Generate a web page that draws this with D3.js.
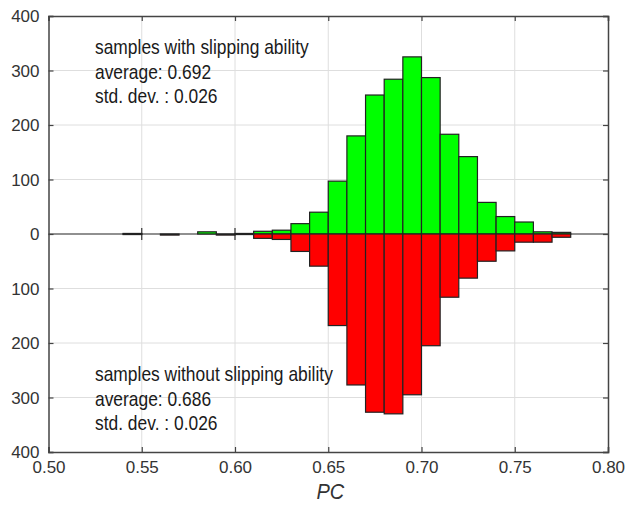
<!DOCTYPE html>
<html>
<head>
<meta charset="utf-8">
<script src="https://cdn.jsdelivr.net/npm/d3@7"></script>
<style>
  body { margin: 0; background: #fff; }
  svg text { font-family: "Liberation Sans", Arial, sans-serif; }
</style>
</head>
<body>
<div id="chart"></div>
<script>
// Histogram bins (left edge of each 0.01-wide bin)
const binStarts = [0.50, 0.51, 0.52, 0.53, 0.54, 0.55, 0.56, 0.57, 0.58, 0.59,
                   0.60, 0.61, 0.62, 0.63, 0.64, 0.65, 0.66, 0.67, 0.68, 0.69,
                   0.70, 0.71, 0.72, 0.73, 0.74, 0.75, 0.76, 0.77, 0.78, 0.79];
// samples with slipping ability (drawn upward)
const withSlip = [0, 0, 0, 0, 1, 0, 0, 0, 4, 0,
                  1, 5, 7, 19, 40, 97, 180, 255, 284, 325,
                  287, 183, 142, 58, 32, 22, 4, 3, 0, 0];
// samples without slipping ability (drawn downward)
const withoutSlip = [0, 0, 0, 0, 1, 0, 2, 0, 0, 2,
                     1, 8, 10, 32, 59, 168, 277, 327, 330, 295,
                     205, 116, 81, 50, 31, 15, 15, 6, 0, 0];
const binWidth = 0.01;

const xTicks = [0.50, 0.55, 0.60, 0.65, 0.70, 0.75, 0.80];
const yTicks = [-400, -300, -200, -100, 0, 100, 200, 300, 400];

const topNote = ['samples with slipping ability', 'average: 0.692', 'std. dev. : 0.026'];
const bottomNote = ['samples without slipping ability', 'average: 0.686', 'std. dev. : 0.026'];

const W = 633, H = 505;
const margin = { top: 16, right: 25, bottom: 53, left: 48.5 };

const svg = d3.select('#chart').append('svg')
  .attr('width', W).attr('height', H);

const x = d3.scaleLinear().domain([0.5, 0.8]).range([margin.left, W - margin.right]);
const y = d3.scaleLinear().domain([-400, 400]).range([H - margin.bottom, margin.top]);

// grid
const grid = svg.append('g').attr('stroke', '#dedede').attr('stroke-width', 1);
grid.selectAll('.gx').data(xTicks.slice(1, -1)).join('line')
  .attr('x1', d => x(d)).attr('x2', d => x(d))
  .attr('y1', y(400)).attr('y2', y(-400));
grid.selectAll('.gy').data(yTicks.slice(1, -1)).join('line')
  .attr('y1', d => y(d)).attr('y2', d => y(d))
  .attr('x1', x(0.5)).attr('x2', x(0.8));

// zero baseline drawn by the (empty) bars
svg.append('line')
  .attr('x1', x(binStarts[0])).attr('x2', x(binStarts[binStarts.length - 1] + binWidth))
  .attr('y1', y(0)).attr('y2', y(0))
  .attr('stroke', '#333').attr('stroke-width', 1.2);

// small crossing ticks on the zero line
svg.append('g').selectAll('line').data(xTicks.slice(1, -1)).join('line')
  .attr('x1', d => x(d)).attr('x2', d => x(d))
  .attr('y1', y(0) - 6).attr('y2', y(0) + 6)
  .attr('stroke', '#333').attr('stroke-width', 1.2);

const bins = binStarts.map((b, i) => ({ x0: b, x1: b + binWidth, up: withSlip[i], down: withoutSlip[i] }));

// green bars (up)
svg.append('g').selectAll('rect').data(bins.filter(d => d.up > 0)).join('rect')
  .attr('x', d => x(d.x0)).attr('width', d => x(d.x1) - x(d.x0))
  .attr('y', d => y(d.up)).attr('height', d => y(0) - y(d.up))
  .attr('fill', '#00ff00').attr('stroke', '#222').attr('stroke-width', 1.2);

// red bars (down)
svg.append('g').selectAll('rect').data(bins.filter(d => d.down > 0)).join('rect')
  .attr('x', d => x(d.x0)).attr('width', d => x(d.x1) - x(d.x0))
  .attr('y', y(0)).attr('height', d => y(-d.down) - y(0))
  .attr('fill', '#ff0000').attr('stroke', '#222').attr('stroke-width', 1.2);

// axes (box with inward ticks)
const axisColor = '#444';
const gL = svg.append('g').attr('transform', `translate(${x(0.5)},0)`)
  .call(d3.axisLeft(y).tickValues(yTicks).tickSize(-5).tickPadding(9).tickFormat(d => Math.abs(d)));
const gR = svg.append('g').attr('transform', `translate(${x(0.8)},0)`)
  .call(d3.axisRight(y).tickValues(yTicks).tickSize(-5).tickFormat(''));
const gB = svg.append('g').attr('transform', `translate(0,${y(-400)})`)
  .call(d3.axisBottom(x).tickValues(xTicks).tickSize(-5).tickPadding(9).tickFormat(d3.format('.2f')));
const gT = svg.append('g').attr('transform', `translate(0,${y(400)})`)
  .call(d3.axisTop(x).tickValues(xTicks).tickSize(-5).tickFormat(''));

[gL, gR, gB, gT].forEach(g => {
  g.select('.domain').attr('stroke', axisColor).attr('stroke-width', 1.5);
  g.selectAll('.tick line').attr('stroke', axisColor).attr('stroke-width', 1.2);
  g.selectAll('.tick text').attr('fill', '#333').style('font-size', '17px');
});
gL.selectAll('.tick text').attr('dy', '0.35em');
gB.selectAll('.tick text').attr('dy', '0.72em');

// axis label
svg.append('text')
  .attr('transform', `translate(${(x(0.5) + x(0.8)) / 2 + 2},499) scale(1,1.08)`)
  .attr('text-anchor', 'middle')
  .style('font-size', '20px').style('font-style', 'italic')
  .attr('fill', '#333').text('PC');

// annotations (the original font is slightly taller than it is wide)
const noteLines = (lines, y0) => svg.append('g').selectAll('text').data(lines).join('text')
  .attr('transform', (d, i) => `translate(95,${y0 + i * 24.5}) scale(1,1.12)`)
  .style('font-size', '17.4px').attr('fill', '#1a1a1a').text(d => d);
noteLines(topNote, 54);
noteLines(bottomNote, 381);
</script>
</body>
</html>
